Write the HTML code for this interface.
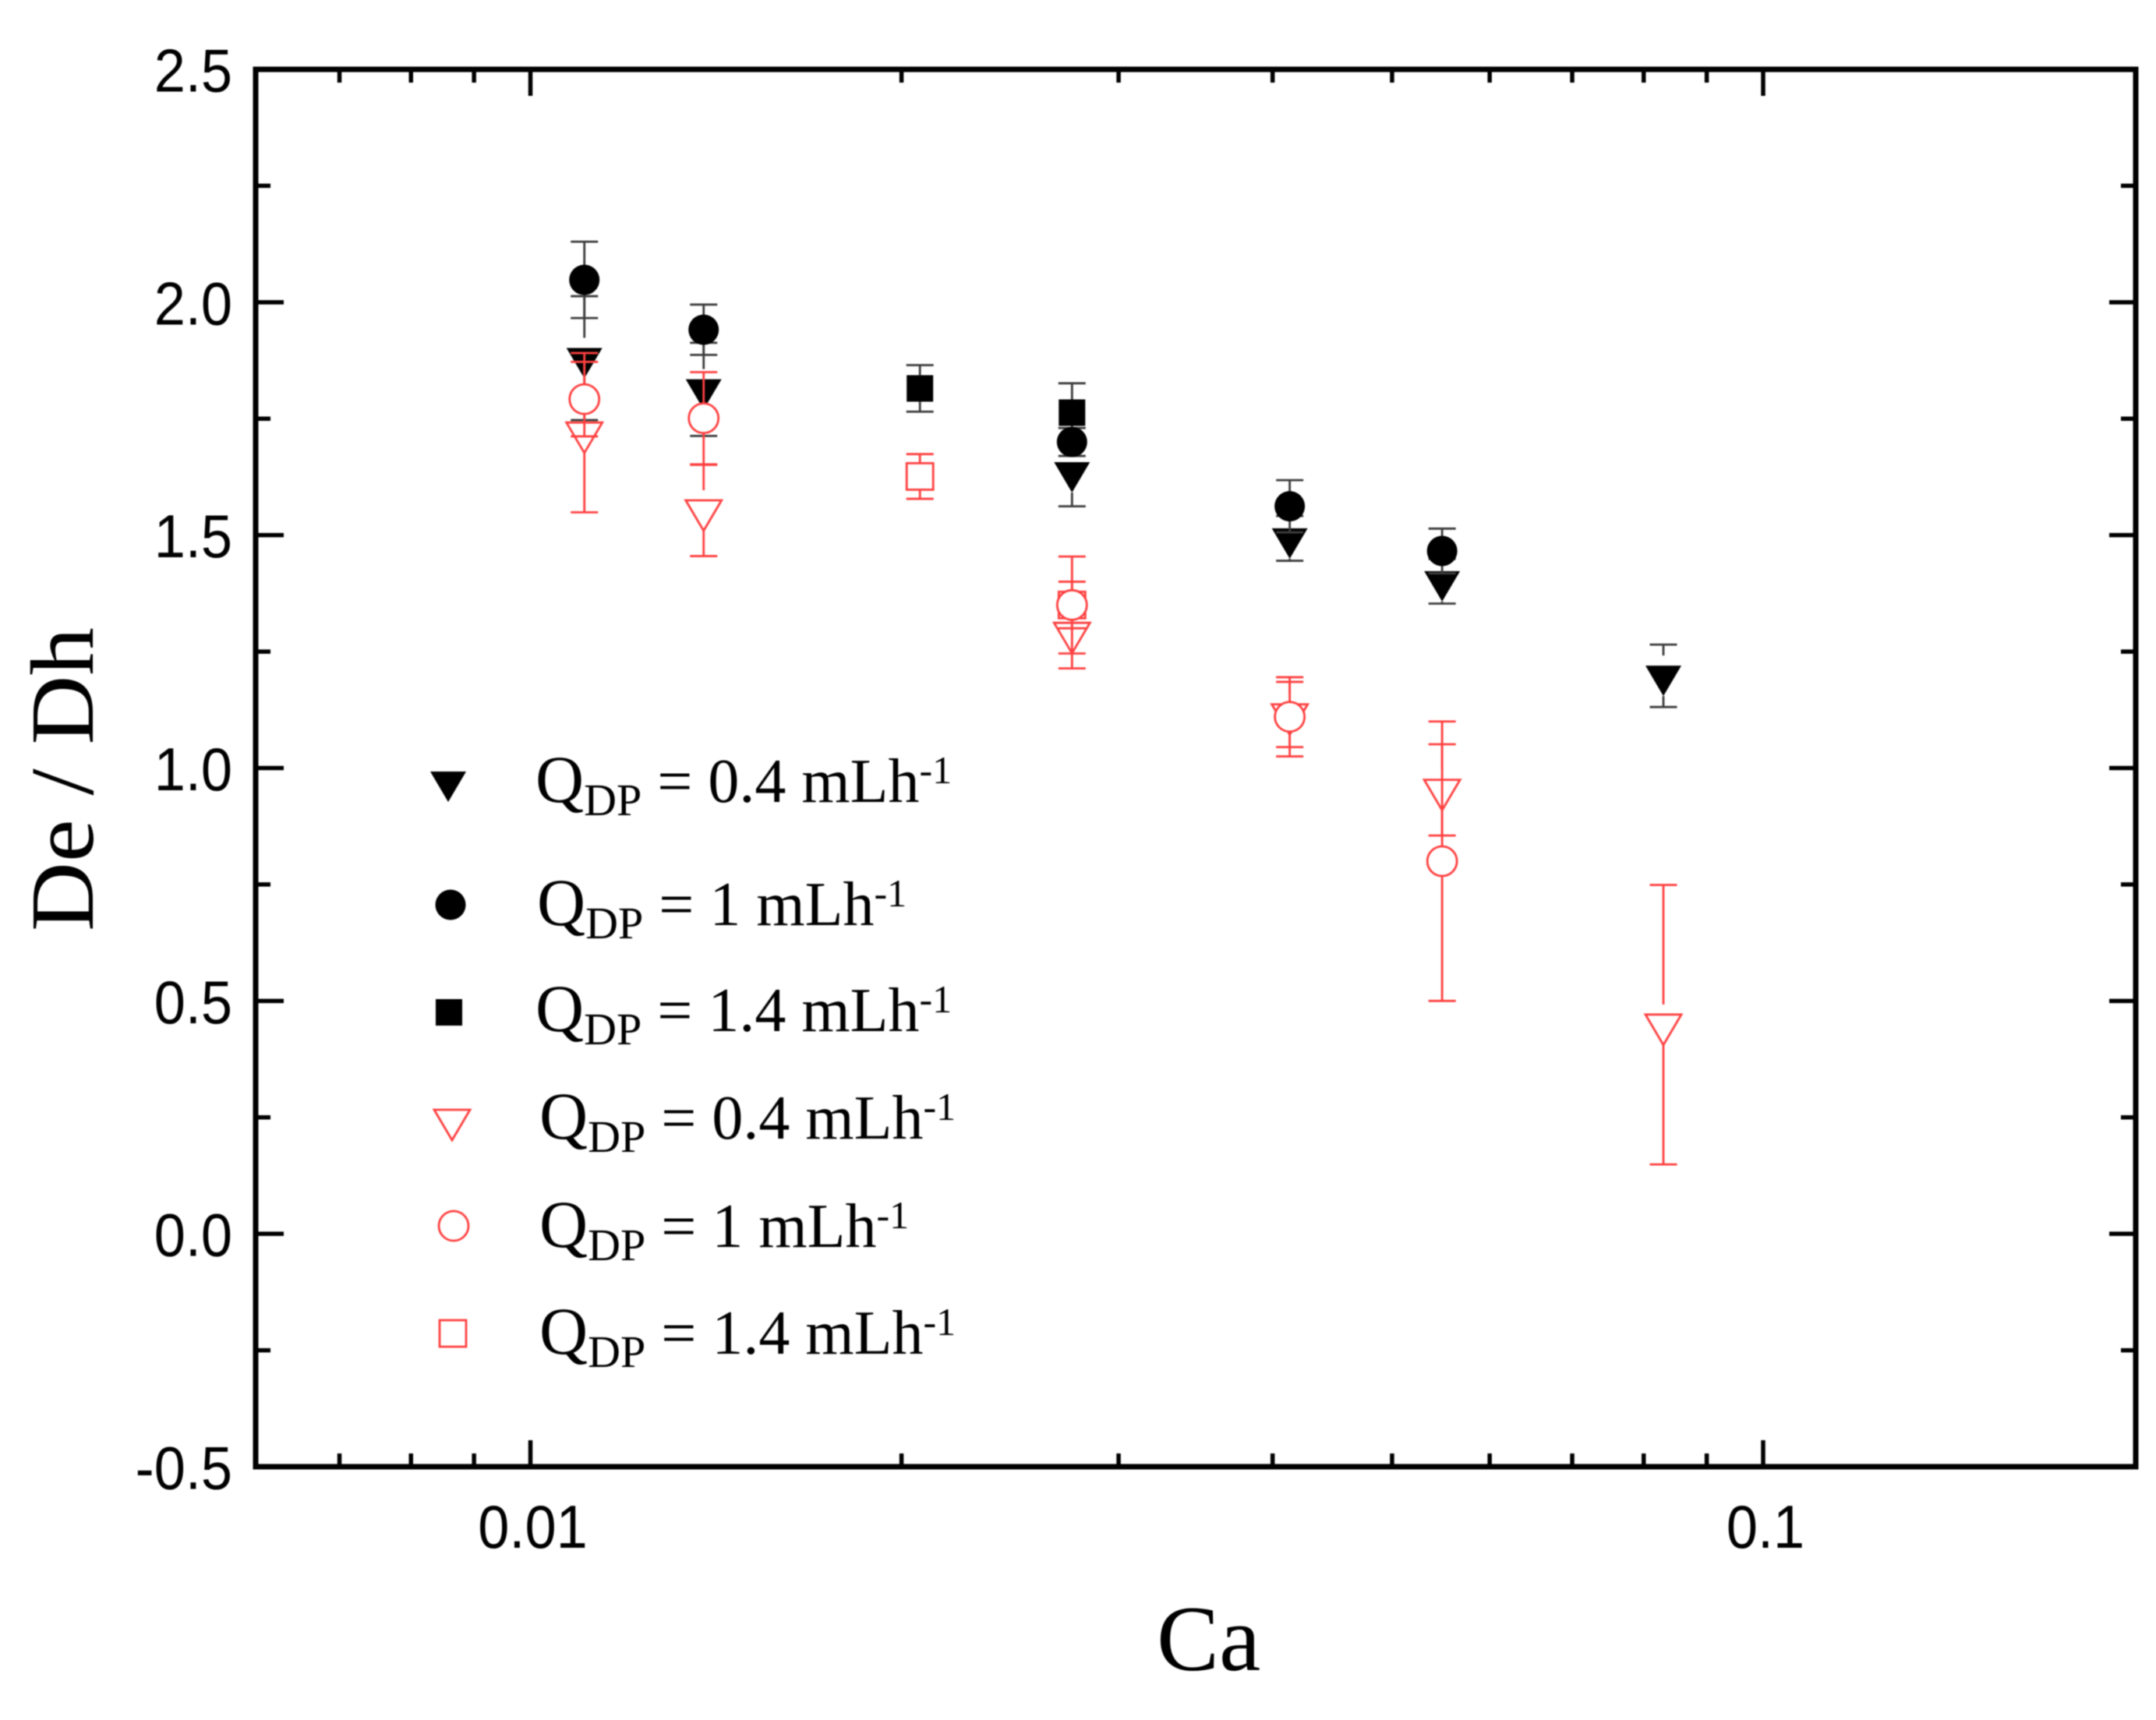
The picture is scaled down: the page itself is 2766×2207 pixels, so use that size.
<!DOCTYPE html>
<html lang="en">
<head>
<meta charset="utf-8">
<title>De / Dh versus Ca</title>
<style>
html,body{margin:0;padding:0;background:#fff;width:2766px;height:2207px;overflow:hidden}
svg{display:block;filter:blur(0.7px)}
.tick-label{font-family:"Liberation Sans",sans-serif;font-size:78px;fill:#000}
.title-text{font-family:"Liberation Serif",serif;fill:#000}
.legend-text{font-family:"Liberation Serif",serif;font-size:80px;fill:#000}
</style>
</head>
<body>
<svg id="chart" xmlns="http://www.w3.org/2000/svg" width="2766" height="2207" viewBox="0 0 2766 2207">
  <rect width="2766" height="2207" fill="#ffffff"/>
  <text class="title-text" x="1484" y="2143" font-size="120">Ca</text>
  <text class="title-text" transform="translate(119,1195) rotate(-90)" font-size="116" textLength="390" lengthAdjust="spacingAndGlyphs">De / Dh</text>
  <g id="axes"></g>
  <g id="series"></g>
  <g id="legend"></g>
</svg>
<script>
// Tick values
var yMajorTicks = [2.5, 2.0, 1.5, 1.0, 0.5, 0.0, -0.5];
var yMajorLabels = ["2.5", "2.0", "1.5", "1.0", "0.5", "0.0", "-0.5"];
var yMinorTicks = [2.25, 1.75, 1.25, 0.75, 0.25, -0.25];
var xMajorTicks = [0.01, 0.1];
var xMajorLabels = ["0.01", "0.1"];
var xMinorTicks = [0.007, 0.008, 0.009, 0.02, 0.03, 0.04, 0.05, 0.06, 0.07, 0.08, 0.09];

// Series data (Ca, De/Dh, error)
var blackTriangleX = [0.01106, 0.01382, 0.0275, 0.0413, 0.0549, 0.083];
var blackTriangleY = [1.88, 1.813, 1.635, 1.493, 1.401, 1.198];
var blackTriangleErr = [0.133, 0.10, 0.073, 0.048, 0.048, 0.067];

var blackCircleX = [0.01106, 0.01382, 0.0275, 0.0413, 0.0549];
var blackCircleY = [2.048, 1.941, 1.70, 1.562, 1.466];
var blackCircleErr = [0.082, 0.054, 0.03, 0.056, 0.048];

var blackSquareX = [0.0207, 0.0275];
var blackSquareY = [1.815, 1.763];
var blackSquareErr = [0.05, 0.063];

var redTriangleX = [0.01106, 0.01382, 0.0275, 0.0413, 0.0549, 0.083];
var redTriangleY = [1.72, 1.553, 1.29, 1.115, 0.953, 0.449];
var redTriangleErr = [0.171, 0.098, 0.076, 0.07, 0.098, 0.30];

var redCircleX = [0.01106, 0.01382, 0.0275, 0.0413, 0.0549];
var redCircleY = [1.792, 1.751, 1.35, 1.11, 0.80];
var redCircleErr = [0.08, 0.099, 0.104, 0.085, 0.30];

var redSquareX = [0.0207, 0.0275];
var redSquareY = [1.626, 1.35];
var redSquareErr = [0.048, 0.05];

// Legend text
var legendFlowRates = ["0.4", "1", "1.4", "0.4", "1", "1.4"];

var NS = "http://www.w3.org/2000/svg";
var PLOT = {left: 328, right: 2740, top: 89, bottom: 1882};
var RED = "#ff4040";
var GREY = "#3c3c3c";

function xScale(v) { return 680.5 + (Math.log10(v) + 2) * 1581.5; }
function yScale(v) { return PLOT.top + (2.5 - v) * (PLOT.bottom - PLOT.top) / 3; }

function make(tag, attrs, parent) {
  var el = document.createElementNS(NS, tag);
  for (var k in attrs) el.setAttribute(k, attrs[k]);
  parent.appendChild(el);
  return el;
}

var axes = document.getElementById("axes");
var seriesRoot = document.getElementById("series");
var legendRoot = document.getElementById("legend");

function tickLine(x1, y1, x2, y2, name) {
  var t = make("line", {x1: x1, y1: y1, x2: x2, y2: y2, stroke: "#000", "stroke-width": 5.5}, axes);
  
  
}

var frame = make("rect", {x: PLOT.left, y: PLOT.top, width: PLOT.right - PLOT.left, height: PLOT.bottom - PLOT.top, fill: "none", stroke: "#000", "stroke-width": 7}, axes);



yMajorTicks.forEach(function (v, i) {
  var y = yScale(v);
  if (i > 0 && i < yMajorTicks.length - 1) {
    tickLine(PLOT.left, y, PLOT.left + 36, y, 'y-major-tick');
    tickLine(PLOT.right, y, PLOT.right - 34, y, 'y-major-tick-right');
  }
  var label = make("text", {"class": "tick-label", "text-anchor": "end", transform: "translate(298," + (y + 28.5) + ") scale(0.925,1)"}, axes);
  label.textContent = yMajorLabels[i];
  
  
});
yMinorTicks.forEach(function (v) {
  var y = yScale(v);
  tickLine(PLOT.left, y, PLOT.left + 19, y, 'y-minor-tick');
  tickLine(PLOT.right, y, PLOT.right - 19, y, 'y-minor-tick-right');
});
xMajorTicks.forEach(function (v, i) {
  var x = xScale(v);
  tickLine(x, PLOT.bottom, x, PLOT.bottom - 34, 'x-major-tick');
  tickLine(x, PLOT.top, x, PLOT.top + 34, 'x-major-tick-top');
  var label = make("text", {"class": "tick-label", "text-anchor": "middle", transform: "translate(" + (x + 3) + ",1986) scale(0.925,1)"}, axes);
  label.textContent = xMajorLabels[i];
  
  
});
xMinorTicks.forEach(function (v) {
  var x = xScale(v);
  tickLine(x, PLOT.bottom, x, PLOT.bottom - 17, 'x-minor-tick');
  tickLine(x, PLOT.top, x, PLOT.top + 17, 'x-minor-tick-top');
});

var GAP = {triangle: 26, circle: 19, square: 17};

function drawMarker(parent, kind, cx, cy, filled, color) {
  var style = filled ? {fill: color, stroke: "none"} : {fill: "none", stroke: color, "stroke-width": 2.8};
  var el;
  if (kind === "triangle") {
    style.points = (cx - 23) + "," + (cy - 13) + " " + (cx + 23) + "," + (cy - 13) + " " + cx + "," + (cy + 26);
    el = make("polygon", style, parent);
  } else if (kind === "circle") {
    style.cx = cx; style.cy = cy; style.r = filled ? 19.5 : 19;
    if (!filled) style.fill = "#ffffff";
    el = make("circle", style, parent);
  } else {
    style.x = cx - 17; style.y = cy - 17; style.width = 34; style.height = 34;
    el = make("rect", style, parent);
  }
  return el;
}

function drawSeries(name, kind, filled, color, errColor, xs, ys, errs) {
  var g = make("g", {}, seriesRoot);
  
  
  xs.forEach(function (xv, i) {
    var cx = xScale(xv), cy = yScale(ys[i]);
    var yTop = yScale(ys[i] + errs[i]), yBot = yScale(ys[i] - errs[i]);
    var gap = GAP[kind];
    var err = make("path", {
      d: "M" + (cx - 17.5) + " " + yTop + "H" + (cx + 17.5) +
         "M" + cx + " " + yTop + "V" + Math.min(cy - gap, yTop < cy - gap ? cy - gap : yTop) +
         "M" + cx + " " + Math.max(cy + gap, yBot > cy + gap ? cy + gap : yBot) + "V" + yBot +
         "M" + (cx - 17.5) + " " + yBot + "H" + (cx + 17.5),
      fill: "none", stroke: errColor, "stroke-width": 2.8
    }, g);
    
    
    var m = drawMarker(g, kind, cx, cy, filled, color);
    
    
  });
}

drawSeries('series-black-triangle', "triangle", true, "#000", GREY, blackTriangleX, blackTriangleY, blackTriangleErr);
drawSeries('series-black-square', "square", true, "#000", GREY, blackSquareX, blackSquareY, blackSquareErr);
drawSeries('series-black-circle', "circle", true, "#000", GREY, blackCircleX, blackCircleY, blackCircleErr);
drawSeries('series-red-square', "square", false, RED, RED, redSquareX, redSquareY, redSquareErr);
drawSeries('series-red-triangle', "triangle", false, RED, RED, redTriangleX, redTriangleY, redTriangleErr);
drawSeries('series-red-circle', "circle", false, RED, RED, redCircleX, redCircleY, redCircleErr);

// Legend layout
var legendKinds = ["triangle", "circle", "square", "triangle", "circle", "square"];
var legendFilled = [true, true, true, false, false, false];
var legendMarkerX = [575, 578, 576, 580, 582, 581];
var legendMarkerY = [1003, 1161, 1299, 1437, 1573, 1711];
var legendTextX = [687, 689, 687, 692, 692, 692];
var legendTextY = [1029, 1187, 1323, 1461, 1600, 1737];

legendKinds.forEach(function (kind, i) {
  var g = make("g", {}, legendRoot);
  
  
  var m = drawMarker(g, kind, legendMarkerX[i], legendMarkerY[i], legendFilled[i], legendFilled[i] ? "#000" : RED);
  if (!legendFilled[i]) m.setAttribute('fill', 'none');
  
  
  var t = make("text", {"class": "legend-text", x: legendTextX[i], y: legendTextY[i]}, g);
  
  
  var q = make("tspan", {"font-size": 86}, t);
  q.textContent = "Q";
  var sub = make("tspan", {"font-size": 58, dy: 17}, t);
  sub.textContent = "DP";
  var rest = make("tspan", {dy: -17}, t);
  rest.textContent = " = " + legendFlowRates[i] + " mLh";
  var sup = make("tspan", {"font-size": 50, dy: -24}, t);
  sup.textContent = "-1";
});
</script>
</body>
</html>
